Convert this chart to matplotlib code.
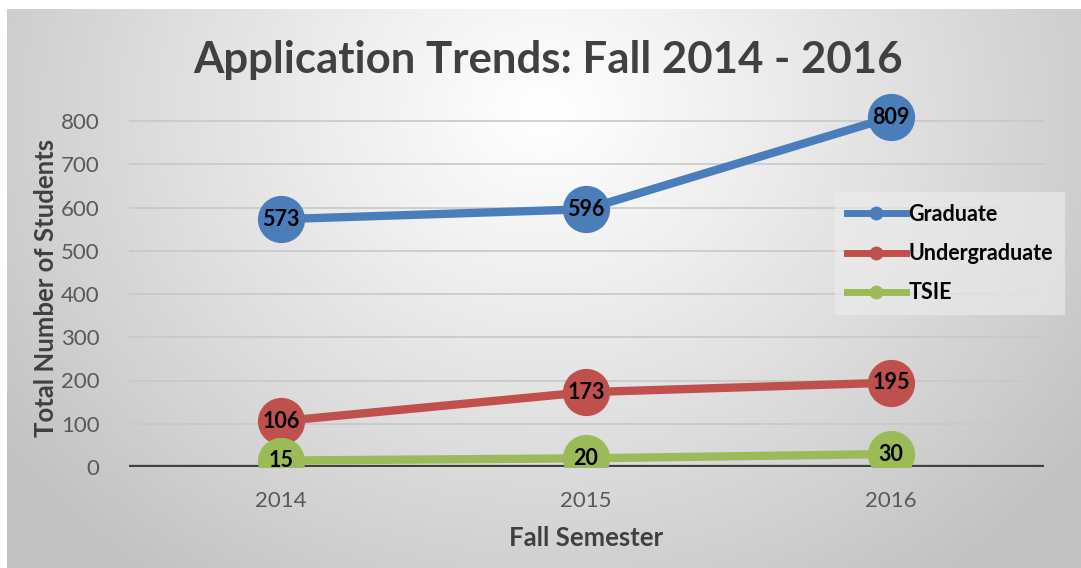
import numpy as np
import matplotlib
matplotlib.use("Agg")
import matplotlib.pyplot as plt
from matplotlib.lines import Line2D

years = ["2014", "2015", "2016"]
graduate = [573, 596, 809]
undergraduate = [106, 173, 195]
tsie = [15, 20, 30]
series_names = ["Graduate", "Undergraduate", "TSIE"]
colors = ["#4a7ebb", "#c0504d", "#9bbb59"]
yticks = [0, 100, 200, 300, 400, 500, 600, 700, 800]

plt.rcParams['font.family'] = ['Lato', 'DejaVu Sans']

W, H = 1081, 568
fig = plt.figure(figsize=(W / 100, H / 100), dpi=100)
fig.patch.set_facecolor("white")

# background with radial gradient
bg = fig.add_axes([7 / W, 0, 1 - 7 / W, 1 - 9 / H])
bg.set_axis_off()
ny, nx = 300, 600
yy, xx = np.mgrid[0:ny, 0:nx]
cx, cy = 0.50 * nx, 0.18 * ny
r = np.sqrt(((xx - cx) / (nx * 0.62)) ** 2 + ((yy - cy) / (ny * 1.05)) ** 2)
r = np.clip(r, 0, 1)
val = 1.0 - (1.0 - 0.76) * r ** 1.1
img = np.dstack([val, val, val])
bg.imshow(img, aspect="auto", extent=[0, 1, 0, 1], origin="upper")
bg.set_xlim(0, 1)
bg.set_ylim(0, 1)

# main axes
x0 = 128.5 / W
x1 = 1043.5 / W
y_zero = 467
ppu = (467 - 121) / 800.0
ytop_val = 900
ax_bottom = 1 - y_zero / H
ax_height = (ytop_val * ppu) / H
ax = fig.add_axes([x0, ax_bottom, x1 - x0, ax_height])
ax.patch.set_alpha(0)
ax.set_xlim(-0.5, 2.5)
ax.set_ylim(0, ytop_val)
for s in ax.spines.values():
    s.set_visible(False)

for t in yticks[1:]:
    ax.axhline(t, color="#c8c8c8", lw=1.2, zorder=1)
ax.axhline(0, color="#404040", lw=3.8, zorder=1)

ax.set_yticks(yticks)
ax.set_yticklabels([str(t) for t in yticks], fontsize=16, color="#595959")
ax.set_xticks(range(len(years)))
ax.set_xticklabels(years, fontsize=16, color="#595959")
ax.tick_params(axis="both", length=0)
ax.tick_params(axis="y", pad=21)
ax.tick_params(axis="x", pad=17)

xs = np.arange(len(years))
for data, c, name in zip([graduate, undergraduate, tsie], colors, series_names):
    ax.plot(xs, data, color=c, lw=6, zorder=3, solid_capstyle="round")
    ax.plot(xs, data, "o", ms=34, color=c, zorder=4, markeredgewidth=0)
    for xi, v in zip(xs, data):
        ax.text(xi, v, str(v), ha="center", va="center", fontsize=15.5,
                fontweight="bold", color="black", zorder=5)

# title and labels
fig.text(548 / W, 1 - 60 / H, "Application Trends: Fall 2014 - 2016",
         ha="center", va="center", fontsize=31.5, fontweight="bold", color="#404040")
fig.text(586 / W, 1 - 538 / H, "Fall Semester", ha="center", va="center",
         fontsize=18.5, fontweight="bold", color="#404040")
fig.text(46 / W, 1 - 288 / H, "Total Number of Students", ha="center", va="center",
         rotation=90, fontsize=18.5, fontweight="bold", color="#404040")

# legend
handles = [Line2D([0], [0], color=c, lw=5, marker="o", ms=10, markeredgewidth=0)
           for c in colors]
leg = fig.legend(handles, series_names, loc="upper left",
                 bbox_to_anchor=(835 / W, 1 - 192 / H), frameon=True,
                 prop={"weight": "bold", "size": 15.5}, handlelength=2.75,
                 handletextpad=0.1, labelspacing=0.85, borderpad=0.55,
                 borderaxespad=0, fancybox=False)
leg.get_frame().set_facecolor("#eeeeee")
leg.get_frame().set_alpha(0.6)
leg.get_frame().set_edgecolor("none")

fig.savefig("out.png", dpi=100)
